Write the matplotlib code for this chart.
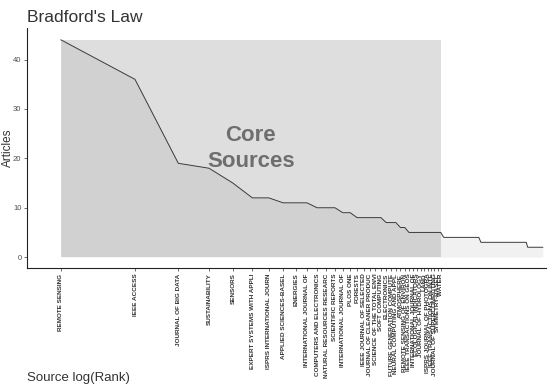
import matplotlib.pyplot as plt
import numpy as np

plt.rcParams['font.family'] = ['Liberation Sans', 'DejaVu Sans']

# core sources (labelled on the x axis), truncated to 25 chars like the original
core_sources = [
    "REMOTE SENSING", "IEEE ACCESS", "JOURNAL OF BIG DATA", "SUSTAINABILITY",
    "SENSORS", "EXPERT SYSTEMS WITH APPLI", "ISPRS INTERNATIONAL JOURN",
    "APPLIED SCIENCES-BASEL", "ENERGIES", "INTERNATIONAL JOURNAL OF",
    "COMPUTERS AND ELECTRONICS", "NATURAL RESOURCES RESEARC", "SCIENTIFIC REPORTS",
    "INTERNATIONAL JOURNAL OF", "PLOS ONE", "FORESTS", "IEEE JOURNAL OF SELECTED",
    "JOURNAL OF CLEANER PRODUC", "SCIENCE OF THE TOTAL ENVI", "SOFT COMPUTING",
    "ELECTRONICS", "FUTURE GENERATION COMPUTE", "NEURAL COMPUTING AND APPL",
    "ATMOSPHERE", "REMOTE SENSING OF ENVIRON", "IEEE TRANSACTIONS ON GEOS",
    "INTERNATIONAL JOURNAL OF", "ECOLOGICAL INDICATORS", "JOURNAL OF HYDROLOGY",
    "LAND", "ISPRS JOURNAL OF PHOTOGRA", "IEEE TRANSACTIONS ON INTE",
    "JOURNAL OF SUPERCOMPUTING", "SYMMETRY-BASEL", "WATER",
]

# articles per source, by rank
articles = [
    44, 36, 19, 18, 15, 12, 12, 11, 11, 11,
    10, 10, 10, 9, 9, 8, 8, 8, 8, 8,
    7, 7, 7, 6, 6, 5, 5, 5, 5, 5,
    5, 5, 5, 5, 5, 4, 4, 4, 4, 4,
    4, 4, 4, 4, 4, 4, 4, 4, 4, 4,
    3, 3, 3, 3, 3, 3, 3, 3, 3, 3,
    3, 3, 3, 3, 3, 3, 3, 3, 3, 3,
    3, 3, 3, 3, 3, 3, 3, 3, 2, 2,
    2, 2, 2, 2, 2, 2, 2, 2, 2, 2,
    2,
]

rank = np.arange(1, len(articles) + 1)
log_rank = np.log(rank)
n_core = len(core_sources)
core_end = np.log(n_core)

fig = plt.figure(figsize=(5.5, 3.9), dpi=100)
ax = fig.add_axes([27 / 550, 1 - 268 / 390, 519 / 550, 240 / 390])

ax.fill_between(log_rank, articles, 0, color="#e5e5e5", alpha=0.5, lw=0)
ax.fill_between([0, core_end], [max(articles)] * 2, 0, color="black", alpha=0.13, lw=0)
ax.plot(log_rank, articles, color="#3a3a3a", lw=0.7)

ax.text(core_end / 2, max(articles) / 2, "Core\nSources", ha="center", va="center",
        fontsize=16, fontweight="bold", color="black", alpha=0.5, linespacing=1.3)

ax.set_xlim(-0.318, 4.541)
ax.set_ylim(-2.2, 46.4)

ax.set_xticks(log_rank[:n_core])
ax.set_xticklabels(core_sources, rotation=90, fontsize=4.6, color="#333333",
                   fontweight="bold", va="top")
ax.set_yticks([0, 10, 20, 30, 40])
ax.tick_params(axis="y", labelsize=5.5, labelcolor="#4d4d4d", length=2.5,
               width=0.5, color="#333333", pad=1.5)
ax.tick_params(axis="x", length=2.5, width=0.5, color="#333333", pad=1.5)

for side in ["top", "right"]:
    ax.spines[side].set_visible(False)
for side in ["left", "bottom"]:
    ax.spines[side].set_linewidth(0.8)
    ax.spines[side].set_color("#222222")

fig.text(8 / 550, 1 - 148 / 390, "Articles", fontsize=8.5, color="#333333",
         rotation=90, ha="center", va="center")
fig.text(27 / 550, 1 - 378 / 390, "Source log(Rank)", fontsize=9.5,
         color="#333333", ha="left", va="center")
fig.text(27 / 550, 1 - 22 / 390, "Bradford's Law", fontsize=12.5,
         color="#333333", ha="left", va="baseline")

fig.savefig("out.png", dpi=100)
